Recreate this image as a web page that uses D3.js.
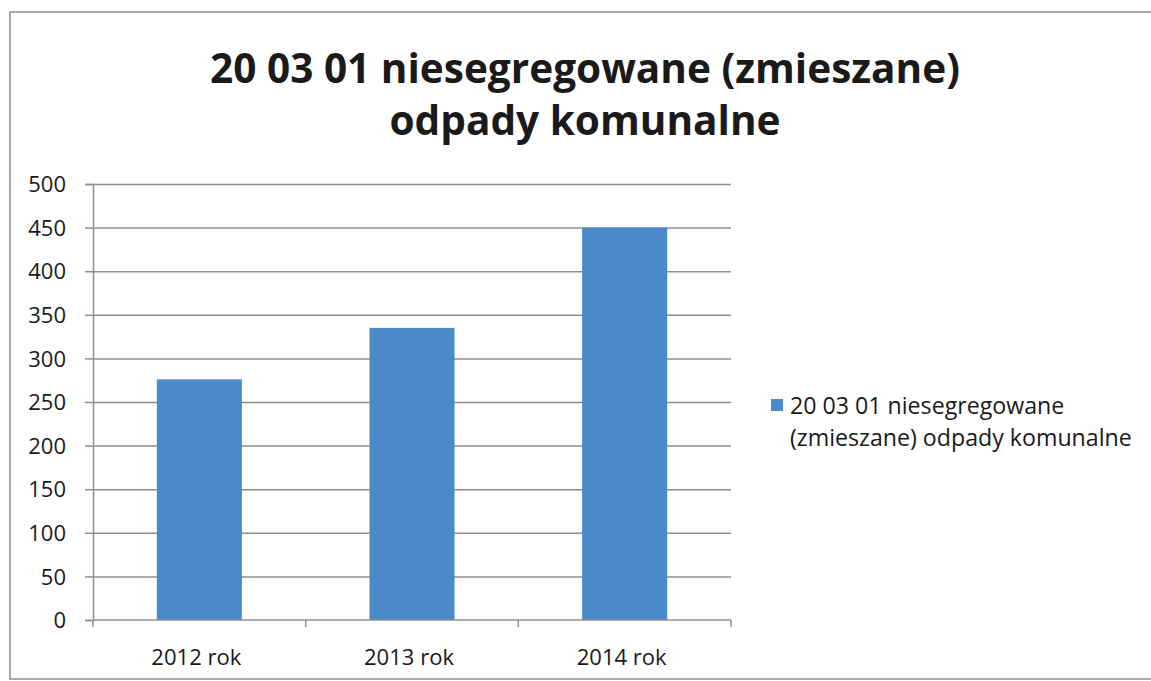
<!DOCTYPE html>
<html>
<head>
<meta charset="utf-8">
<script src="https://cdn.jsdelivr.net/npm/d3@7"></script>
<style>
  body { margin: 0; background: #fff; }
  text { font-family: "Open Sans", "DejaVu Sans", sans-serif; fill: #1a1a1a; }
</style>
</head>
<body>
<script>
// data
var categories = ['2012 rok', '2013 rok', '2014 rok'];
var values = [276, 335, 450];
var yTicks = [0, 50, 100, 150, 200, 250, 300, 350, 400, 450, 500];
var seriesName = '20 03 01 niesegregowane (zmieszane) odpady komunalne';
var titleLines = ['20 03 01 niesegregowane (zmieszane)', 'odpady komunalne'];
var legendLines = ['20 03 01 niesegregowane', '(zmieszane) odpady komunalne'];

var W = 1151, H = 681;
var plot = { left: 93, right: 731, top: 184, bottom: 620 };
var barColor = '#4b8ac9';
var lineColor = '#8f8f8f';

var svg = d3.select('body').append('svg')
  .attr('width', W)
  .attr('height', H);

// shrink/grow a selection's font so the given node's text matches a width
function fitWidth(sel, node, base, target) {
  var fs = base * target / node.getComputedTextLength();
  sel.style('font-size', fs + 'px');
}

// chart frame
svg.append('rect')
  .attr('x', 10).attr('y', 12)
  .attr('width', 1160).attr('height', 667)
  .attr('fill', 'none')
  .attr('stroke', lineColor)
  .attr('stroke-width', 1.5);

var x = d3.scaleBand()
  .domain(categories)
  .range([plot.left, plot.right])
  .paddingInner(0.6)
  .paddingOuter(0.3);

var y = d3.scaleLinear()
  .domain([0, 500])
  .range([plot.bottom, plot.top]);

// y axis + labels
var yAxis = svg.append('g')
  .attr('transform', `translate(${plot.left},0)`)
  .call(d3.axisLeft(y).tickValues(yTicks).tickSize(8));
yAxis.select('.domain').attr('stroke', lineColor).attr('stroke-width', 1.5);
yAxis.selectAll('.tick line').attr('stroke', lineColor).attr('stroke-width', 1.5);
yAxis.selectAll('.tick text')
  .style('font-size', '22px')
  .attr('x', -27)
  .attr('dy', '0.35em');

// gridlines
svg.append('g')
  .attr('transform', `translate(${plot.left},0)`)
  .call(d3.axisLeft(y).tickValues(yTicks.filter(d => d > 0)).tickSize(-(plot.right - plot.left)).tickFormat(''))
  .call(g => g.select('.domain').remove())
  .selectAll('.tick line')
  .attr('stroke', lineColor)
  .attr('stroke-width', 1.5);

// bars
svg.selectAll('.bar')
  .data(values)
  .enter()
  .append('rect')
  .attr('class', 'bar')
  .attr('x', (d, i) => x(categories[i]))
  .attr('width', x.bandwidth())
  .attr('y', d => y(d))
  .attr('height', d => y(0) - y(d))
  .attr('fill', barColor);

// x axis with tick marks between categories
var xEdges = d3.range(categories.length + 1).map(i => plot.left + i * (plot.right - plot.left) / categories.length);
svg.append('line')
  .attr('x1', plot.left).attr('x2', plot.right)
  .attr('y1', y(0)).attr('y2', y(0))
  .attr('stroke', lineColor).attr('stroke-width', 1.5);
svg.selectAll('.xtick')
  .data(xEdges)
  .enter()
  .append('line')
  .attr('x1', d => d).attr('x2', d => d)
  .attr('y1', y(0)).attr('y2', y(0) + 7)
  .attr('stroke', lineColor).attr('stroke-width', 1.5);

var xLabels = svg.selectAll('.xlabel')
  .data(categories)
  .enter()
  .append('text')
  .attr('class', 'xlabel')
  .attr('x', d => x(d) + x.bandwidth() / 2 - 3)
  .attr('y', 665)
  .attr('text-anchor', 'middle')
  .style('font-size', '20px')
  .text(d => d);
fitWidth(xLabels, xLabels.node(), 20, 90);

// title
var titles = svg.selectAll('.title')
  .data(titleLines)
  .enter()
  .append('text')
  .attr('class', 'title')
  .attr('x', 585)
  .attr('y', (d, i) => 83 + i * 52)
  .attr('text-anchor', 'middle')
  .style('font-size', '38px')
  .style('font-weight', 'bold')
  .text(d => d);
fitWidth(titles, titles.node(), 38, 750);

// legend
svg.append('rect')
  .attr('x', 771).attr('y', 399)
  .attr('width', 12).attr('height', 12)
  .attr('fill', barColor);

var legend = svg.selectAll('.legend')
  .data(legendLines)
  .enter()
  .append('text')
  .attr('class', 'legend')
  .attr('x', 790)
  .attr('y', (d, i) => 414 + i * 32)
  .style('font-size', '20px')
  .text(d => d);
fitWidth(legend, legend.nodes()[1], 20, 342);
</script>
</body>
</html>
